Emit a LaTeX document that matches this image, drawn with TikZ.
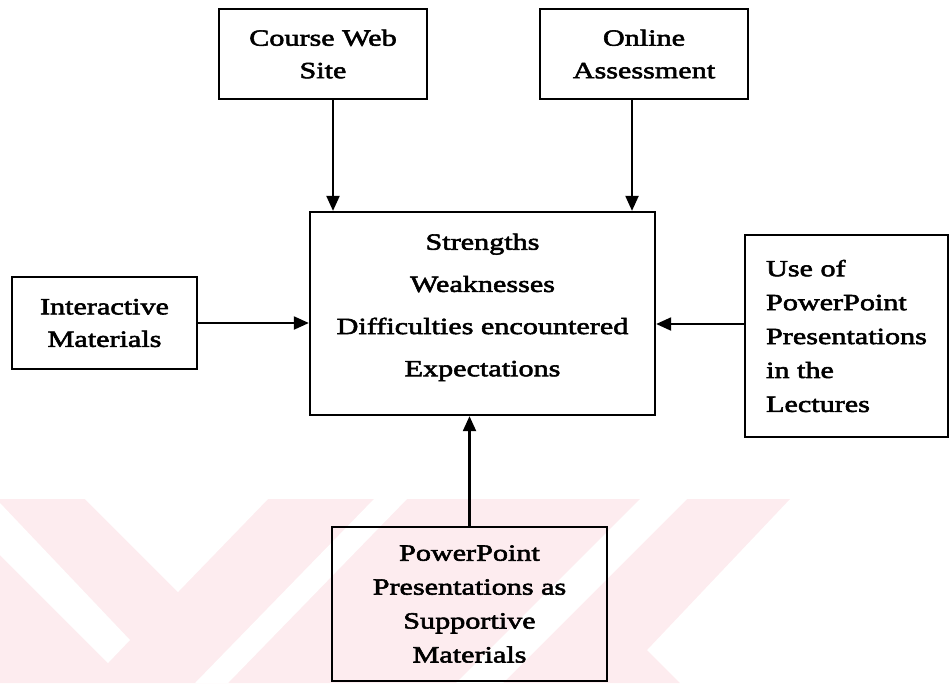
\documentclass[tikz,border=0pt]{standalone}
\usepackage{fontspec}
\setmainfont{Liberation Serif}[FakeStretch=1.3,FakeBold=2.5]
\usetikzlibrary{arrows.meta}
\definecolor{wmpink}{RGB}{253,236,239}
\tikzset{
    box/.style={draw, line width=1.3pt, align=center, inner sep=0pt,
        font=\fontsize{13.2}{18.5}\selectfont},
    arr/.style={line width=1.2pt, -{Triangle[length=3mm,width=2.6mm]}}
}

\begin{document}
\begin{tikzpicture}[x=0.2mm, y=-0.2mm]
            \useasboundingbox (0,0) rectangle (950,683);

            % faint watermark behind the lower part
            \fill[wmpink] (0,499) -- (790,499) -- (647,650) -- (680,683) -- (0,683) -- cycle;
            \fill[white] (0,503) -- (130,640) -- (108,663) -- (0,555) -- cycle;
            \fill[white] (85,499) -- (268,499) -- (178,592) -- cycle;
            \fill[white] (374,499) -- (407,499) -- (228,683) -- (195,683) -- cycle;
            \fill[white] (640,499) -- (687,499) -- (503,683) -- (456,683) -- cycle;

            \node[box, minimum width=41.6mm, minimum height=18mm] (web) at (323,54) {Course Web\\Site};
            \node[box, minimum width=41.6mm, minimum height=18mm] (online) at (644,54) {Online\\Assessment};
            \node[box, minimum width=69mm, minimum height=40.6mm,
                font=\fontsize{13.2}{24}\selectfont] (hub) at (482.5,313.5)
                {Strengths\\Weaknesses\\Difficulties encountered\\Expectations\\[-5mm]};
            \node[box, minimum width=37mm, minimum height=18.4mm] (inter) at (104.5,323) {Interactive\\Materials};
            \node[box, align=left, minimum width=40.6mm, minimum height=40.4mm,
                font=\fontsize{13.2}{19.3}\selectfont] (lectures) at (846.5,336)
                {Use of\\PowerPoint\\Presentations\\in the\\Lectures};
            \node[box, minimum width=55mm, minimum height=30.8mm,
                font=\fontsize{13.2}{19.3}\selectfont] (support) at (469.5,604)
                {PowerPoint\\Presentations as\\Supportive\\Materials};

            \foreach \u/\s in {web/2mm, online/-2.4mm}{
                \draw[arr] ([xshift=\s]\u.south) -- ([xshift=\s]\u.south |- hub.north);
            }
            \draw[arr] (inter.east) -- (inter.east -| hub.west);
            \draw[arr] ([yshift=2.4mm]lectures.west) -- ([yshift=2.4mm]lectures.west -| hub.east);
            \draw[arr] (support.north) -- (support.north |- hub.south);
        \end{tikzpicture}
\end{document}
